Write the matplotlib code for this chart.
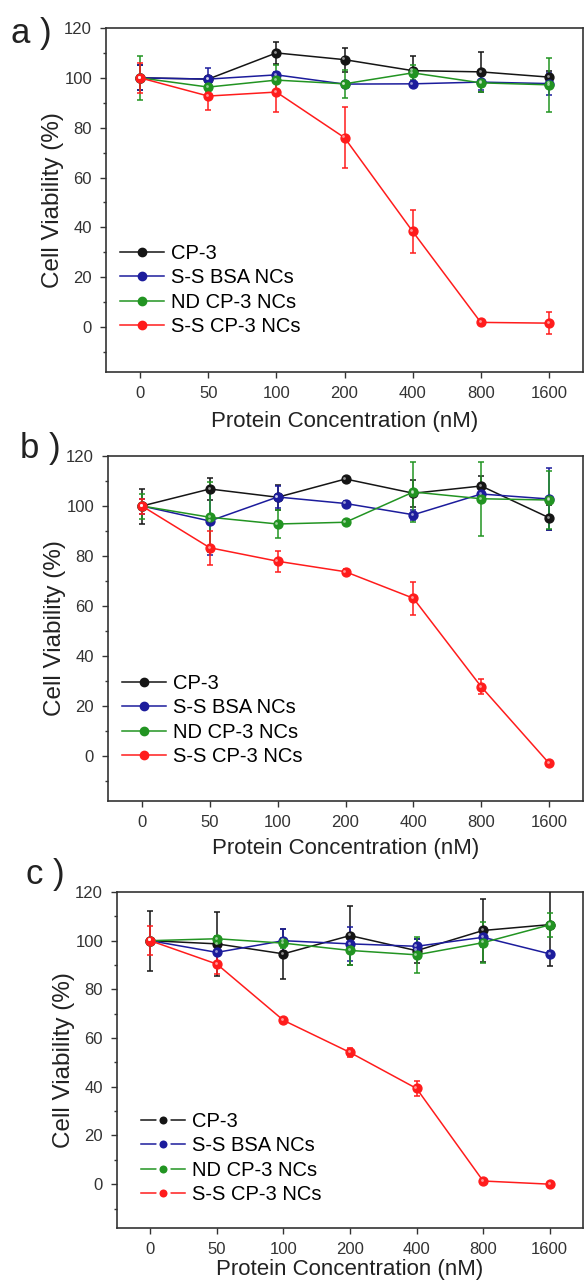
import matplotlib.pyplot as plt
from matplotlib.lines import Line2D
from matplotlib.transforms import ScaledTranslation
import numpy as np

plt.rcParams['font.family'] = ['Liberation Sans', 'DejaVu Sans']

conc = ['0', '50', '100', '200', '400', '800', '1600']
names = ['CP-3', 'S-S BSA NCs', 'ND CP-3 NCs', 'S-S CP-3 NCs']
colors = ['#151515', '#1c1c9c', '#229422', '#ff1c1c']

# panel a
a_cp3 = [100, 99.5, 110, 107.3, 102.9, 102.4, 100.3]
a_cp3_err = [5, 1, 4.3, 4.8, 5.9, 7.9, 2.5]
a_bsa = [100, 99.5, 101.2, 97.5, 97.6, 98.3, 97.7]
a_bsa_err = [5, 4.4, 1, 1, 1, 3.2, 4.4]
a_nd = [100, 96.3, 99.1, 97.6, 102, 98, 97.2]
a_nd_err = [8.8, 2, 6, 5.7, 3, 3.6, 10.9]
a_ss = [100, 92.7, 94.3, 76, 38.4, 1.9, 1.6]
a_ss_err = [6, 5.4, 7.8, 12.3, 8.7, 0.5, 4.5]

# panel b
b_cp3 = [100, 106.8, 103.5, 110.8, 105.1, 108, 95.3]
b_cp3_err = [7, 4.3, 5, 1, 5.3, 4, 5]
b_bsa = [100, 94, 103.6, 101, 96.5, 104.8, 102.8]
b_bsa_err = [3, 13.5, 4.5, 1, 2, 2, 12.5]
b_nd = [100, 95.5, 92.8, 93.5, 105.6, 102.9, 102.4]
b_nd_err = [5, 14, 5.5, 1, 12, 14.7, 11.6]
b_ss = [100, 83.3, 77.9, 73.7, 63.1, 27.7, -2.9]
b_ss_err = [3, 6.7, 4.3, 1, 6.6, 3, 0.8]

# panel c
c_cp3 = [100, 98.7, 94.6, 102.1, 95.9, 104.2, 106.6]
c_cp3_err = [12.3, 13, 10.2, 12, 5, 13, 17]
c_bsa = [100, 95.2, 100, 98.7, 97.7, 101.4, 94.6]
c_bsa_err = [1, 4, 5, 7, 3, 4, 1]
c_nd = [100, 100.8, 99, 96, 94.2, 99.2, 106.5]
c_nd_err = [1, 1, 2, 6, 7.5, 8.5, 5]
c_ss = [100, 90.4, 67.3, 54.1, 39.3, 1.3, 0]
c_ss_err = [6, 4, 1, 2, 3, 0.5, 0.5]

panels = [
    ('a )', [a_cp3, a_bsa, a_nd, a_ss], [a_cp3_err, a_bsa_err, a_nd_err, a_ss_err]),
    ('b )', [b_cp3, b_bsa, b_nd, b_ss], [b_cp3_err, b_bsa_err, b_nd_err, b_ss_err]),
    ('c )', [c_cp3, c_bsa, c_nd, c_ss], [c_cp3_err, c_bsa_err, c_nd_err, c_ss_err]),
]

W, H = 584, 1280
fig = plt.figure(figsize=(W / 100, H / 100), dpi=100)

# axes boxes in pixels: left, top, bottom
boxes = [(106, 28, 372), (108, 456, 801), (117, 892, 1228)]
label_pos = [(11, 43), (20, 458), (26, 884)]
legend_pos = [(120, 290), (122, 720), (141, 1158)]
xlab_pad = [7, 6, 1.5]

# small shine on the markers
shine = ScaledTranslation(-1.2 / 100, 1.2 / 100, fig.dpi_scale_trans)

x = np.arange(len(conc))
for i, (tag, vals, errs) in enumerate(panels):
    l, t, b = boxes[i]
    ax = fig.add_axes([l / W, 1 - b / H, (583 - l) / W, (b - t) / H])
    for v, e, c in zip(vals, errs, colors):
        ax.errorbar(x, v, yerr=e, color=c, lw=1.1, elinewidth=1.1,
                    capsize=2.5, capthick=1.1, marker='o', ms=6.4,
                    mfc=c, mec=c, zorder=3)
        ax.plot(x, v, 'o', ms=2, color='white', alpha=0.55, mew=0,
                transform=ax.transData + shine, zorder=4)
    ax.set_xlim(-0.5, 6.5)
    ax.set_ylim(-18, 120)
    ax.set_xticks(x)
    ax.set_xticklabels(conc)
    ax.set_yticks(np.arange(0, 121, 20))
    ax.set_yticks(np.arange(-10, 120, 20), minor=True)
    ax.tick_params(axis='both', which='major', direction='out', length=4,
                   width=1, labelsize=12, colors='#333333', pad=6)
    ax.tick_params(axis='y', which='minor', direction='out', length=2.5,
                   width=1, colors='#333333')
    ax.tick_params(axis='y', which='major', pad=6)
    for s in ax.spines.values():
        s.set_linewidth(1.2)
        s.set_color('#333333')
    ax.set_xlabel('Protein Concentration (nM)', fontsize=16, color='#222222',
                  labelpad=xlab_pad[i])
    ax.set_ylabel('Cell Viability (%)', fontsize=17.5, color='#222222',
                  labelpad=0)

    fig.text(label_pos[i][0] / W, 1 - label_pos[i][1] / H, tag, fontsize=25,
             ha='left', va='baseline', color='#222222')

    handles = []
    for c in colors:
        if i == 2:
            handles.append(Line2D([], [], color=c, lw=1.1, marker='o', ms=8,
                                  mfc=c, mec='white', mew=2.2))
        else:
            handles.append(Line2D([], [], color=c, lw=1.1, marker='o', ms=6,
                                  mfc=c, mec=c))
    lx, ly = legend_pos[i]
    ax.legend(handles, names, loc='center left', frameon=False, fontsize=14.5,
              bbox_to_anchor=(lx / W, 1 - ly / H),
              bbox_transform=fig.transFigure, borderpad=0, borderaxespad=0,
              handlelength=2.2, handletextpad=0.35, labelspacing=0.27)

fig.savefig('out.png', dpi=100)
